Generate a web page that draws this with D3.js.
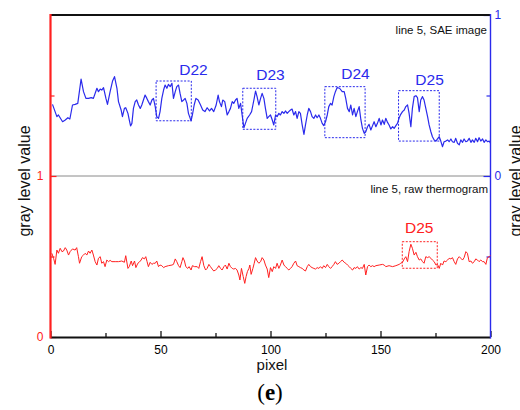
<!DOCTYPE html>
<html>
<head>
<meta charset="utf-8">
<script src="https://cdn.jsdelivr.net/npm/d3@7"></script>
<style>
  html, body { margin: 0; padding: 0; background: #fff; }
  svg { display: block; }
</style>
</head>
<body>
<svg id="chart" width="520" height="410"></svg>
<script>
// ---- data ----
// SAE image profile (right axis, 0..1 upper half)
const saePx = [0.9,2.9,3.6,5.5,6.7,7.9,8.8,10.0,11.2,12.4,13.9,15.0,16.1,17.3,18.5,19.5,21.1,21.8,22.6,23.3,24.1,25.2,25.9,27.1,28.2,29.1,30.2,30.9,32.1,32.7,33.6,34.2,35.2,35.8,36.4,37.0,37.7,38.5,39.2,40.0,40.8,41.5,43.0,43.8,44.5,45.3,46.1,46.8,47.6,48.3,49.1,49.8,50.6,51.4,52.1,52.9,53.6,54.4,55.2,55.9,56.7,57.4,58.2,58.9,59.7,60.5,61.2,62.0,62.7,63.5,63.9,64.5,65.3,
  66.1,67.1,68.2,69.2,70.2,71.2,72.3,73.2,74.2,75.3,76.2,76.8,77.7,78.3,79.2,80.3,81.1,81.8,82.6,83.3,84.1,84.8,85.6,86.4,87.1,87.9,88.6,89.4,90.5,91.4,92.0,92.6,93.2,93.9,94.7,95.5,96.2,97.0,97.7,98.5,99.2,100.0,100.8,101.5,102.3,103.0,103.8,104.5,105.3,106.1,106.8,107.6,108.3,109.1,109.8,110.6,111.4,112.1,112.9,113.6,114.4,115.2,115.9,116.7,117.4,118.2,118.9,119.7,120.5,121.2,122.0,122.7,123.5,124.2,125.0,125.8,126.5,127.3,128.0,128.8,129.5,130.3,131.4,132.6,
  133.5,134.2,135.0,135.8,136.5,137.3,138.0,138.8,139.5,140.3,141.1,141.8,142.6,143.3,144.1,144.8,145.6,146.4,147.1,147.9,148.6,149.4,150.2,150.9,151.7,152.4,153.2,153.9,154.7,155.5,156.2,157.0,157.7,158.5,159.2,160.0,160.8,161.5,162.3,163.0,163.8,164.5,165.3,166.1,166.8,167.6,168.3,169.1,169.8,170.6,171.4,172.1,172.9,173.6,174.4,175.2,175.9,176.7,177.4,178.2,178.9,179.7,180.5,181.2,182.0,182.7,183.5,184.2,185.0,185.8,186.5,187.3,188.0,188.8,189.5,190.3,191.1,191.8,192.6,193.3,194.1,194.8,195.6,196.4,197.1,197.9,198.6,199.4,200.0];
const saeVal = [0.445,0.369,0.379,0.337,0.348,0.362,0.354,0.441,0.445,0.451,0.602,0.524,0.482,0.482,0.487,0.482,0.545,0.524,0.540,0.534,0.549,0.482,0.445,0.524,0.590,0.617,0.545,0.462,0.410,0.369,0.420,0.424,0.389,0.348,0.311,0.327,0.420,0.462,0.472,0.441,0.420,0.441,0.503,0.482,0.462,0.441,0.472,0.482,0.431,0.369,0.358,0.400,0.482,0.534,0.565,0.545,0.569,0.555,0.576,0.482,0.524,0.555,0.565,0.513,0.462,0.472,0.482,0.451,0.389,0.358,0.342,0.379,0.441,
  0.482,0.472,0.441,0.410,0.400,0.424,0.404,0.420,0.400,0.441,0.503,0.462,0.431,0.472,0.462,0.379,0.400,0.420,0.462,0.451,0.472,0.482,0.420,0.451,0.379,0.300,0.327,0.358,0.379,0.400,0.441,0.482,0.528,0.493,0.441,0.482,0.513,0.482,0.420,0.358,0.369,0.379,0.348,0.317,0.379,0.369,0.389,0.379,0.400,0.389,0.404,0.389,0.400,0.410,0.416,0.379,0.400,0.358,0.400,0.389,0.317,0.259,0.317,0.379,0.420,0.400,0.369,0.358,0.379,0.362,0.379,0.358,0.327,0.313,0.337,0.379,0.431,0.451,0.441,0.493,0.524,0.549,0.545,0.524,
  0.524,0.482,0.420,0.400,0.441,0.379,0.420,0.369,0.400,0.431,0.348,0.296,0.265,0.275,0.306,0.321,0.286,0.313,0.337,0.306,0.327,0.358,0.317,0.348,0.321,0.358,0.333,0.317,0.292,0.306,0.296,0.313,0.327,0.362,0.383,0.400,0.410,0.431,0.441,0.389,0.306,0.420,0.493,0.499,0.487,0.400,0.472,0.493,0.472,0.420,0.369,0.317,0.275,0.244,0.224,0.217,0.230,0.244,0.217,0.182,0.213,0.217,0.224,0.213,0.230,0.213,0.209,0.234,0.203,0.193,0.224,0.209,0.230,0.213,0.217,0.234,0.209,0.224,0.209,0.234,0.213,0.238,0.217,0.230,0.209,0.224,0.213,0.217,0.203];

// raw thermogram profile (left axis, 0..1 lower half)
const rawPx = [0.6,1.4,2.1,2.9,3.6,4.4,5.2,5.9,6.7,7.4,8.2,8.9,10.0,11.2,11.9,12.7,13.2,14.2,15.0,15.8,16.5,17.3,18.0,18.8,19.5,20.3,21.1,21.8,22.6,23.3,24.1,24.8,25.6,26.4,27.1,27.9,29.4,30.9,32.4,33.6,34.2,35.2,35.8,36.7,37.3,38.2,38.8,39.7,40.3,41.2,41.8,42.7,43.3,43.9,44.5,45.3,46.1,46.8,47.6,48.3,49.1,49.8,50.6,51.4,52.1,53.6,55.2,55.9,56.7,57.4,58.2,58.9,59.7,60.2,60.9,61.5,62.4,63.0,63.9,64.5,65.5,
  66.7,67.4,68.2,68.9,69.7,70.5,71.2,72.0,72.7,73.5,74.2,75.0,75.8,76.5,77.3,78.0,78.8,79.5,80.3,81.1,81.8,82.6,83.3,84.1,84.8,85.6,86.1,86.8,87.6,88.3,88.9,89.5,90.2,90.6,91.2,92.0,92.6,93.2,93.9,94.7,95.5,96.2,97.0,97.7,98.5,99.2,100.0,100.8,101.5,102.3,103.0,103.8,104.5,105.3,106.1,106.8,107.6,108.3,109.1,109.8,110.6,111.4,112.1,112.9,113.6,114.4,115.2,115.9,116.7,117.4,118.2,118.9,119.7,120.5,121.2,122.0,122.7,123.5,124.2,125.0,125.8,126.5,127.3,128.0,128.8,129.5,130.3,131.1,131.8,132.6,
  133.5,134.2,135.0,135.8,136.5,137.3,138.0,138.8,139.5,140.3,141.1,141.8,142.6,143.3,144.1,144.8,145.6,146.4,147.1,147.9,149.4,150.9,151.7,152.4,153.9,155.5,157.0,158.5,159.2,160.0,160.8,161.5,162.3,163.0,163.8,164.5,165.3,166.1,166.8,167.6,168.3,169.1,169.8,170.6,171.4,172.1,172.9,173.6,174.4,175.2,175.9,176.7,177.4,178.2,178.9,179.7,180.5,181.2,182.0,182.7,183.5,184.2,185.0,185.8,186.5,187.3,188.0,188.8,189.5,190.3,191.1,191.8,192.6,193.3,194.1,194.8,195.6,196.4,197.1,197.9,198.6,199.4,200.0];
const rawVal = [0.520,0.489,0.451,0.540,0.520,0.551,0.530,0.534,0.555,0.540,0.509,0.530,0.547,0.540,0.555,0.499,0.458,0.499,0.509,0.520,0.509,0.534,0.520,0.540,0.509,0.468,0.447,0.489,0.499,0.458,0.468,0.437,0.478,0.468,0.476,0.468,0.468,0.468,0.472,0.464,0.505,0.426,0.437,0.472,0.443,0.472,0.431,0.458,0.464,0.478,0.493,0.485,0.499,0.468,0.437,0.464,0.451,0.458,0.458,0.472,0.437,0.447,0.443,0.431,0.437,0.443,0.447,0.451,0.485,0.468,0.443,0.431,0.468,0.493,0.472,0.437,0.426,0.437,0.416,0.443,0.437,
  0.437,0.426,0.468,0.499,0.443,0.416,0.426,0.451,0.437,0.422,0.410,0.416,0.426,0.443,0.426,0.416,0.437,0.447,0.422,0.458,0.437,0.426,0.422,0.426,0.416,0.385,0.354,0.426,0.375,0.333,0.375,0.406,0.426,0.447,0.389,0.426,0.458,0.493,0.472,0.458,0.468,0.493,0.478,0.447,0.422,0.369,0.431,0.406,0.437,0.426,0.458,0.426,0.447,0.478,0.447,0.437,0.426,0.416,0.426,0.437,0.458,0.472,0.443,0.437,0.431,0.426,0.416,0.410,0.437,0.451,0.437,0.431,0.426,0.422,0.431,0.426,0.437,0.426,0.443,0.431,0.451,0.437,0.426,0.437,0.451,0.468,0.451,0.458,0.468,0.478,
  0.464,0.458,0.447,0.437,0.426,0.416,0.431,0.426,0.437,0.422,0.431,0.426,0.451,0.385,0.437,0.447,0.437,0.443,0.437,0.443,0.447,0.451,0.447,0.437,0.443,0.437,0.443,0.451,0.458,0.464,0.485,0.499,0.468,0.530,0.576,0.551,0.509,0.526,0.499,0.478,0.485,0.468,0.458,0.499,0.493,0.499,0.489,0.478,0.468,0.447,0.451,0.426,0.458,0.447,0.472,0.468,0.478,0.489,0.485,0.493,0.468,0.451,0.485,0.499,0.489,0.478,0.493,0.530,0.520,0.468,0.472,0.458,0.468,0.485,0.478,0.468,0.478,0.468,0.468,0.451,0.493,0.499,0.505];

// defect annotation boxes (SAE, right axis units)
const saeBoxLabels = ["D22", "D23", "D24", "D25"];
const saeBoxX0 = [48.0, 87.4, 124.7, 158.2];
const saeBoxX1 = [64.0, 102.4, 143.0, 176.7];
const saeBoxTop = [0.590, 0.545, 0.555, 0.530];
const saeBoxBottom = [0.343, 0.290, 0.238, 0.217];
const saeLabelX = [65.0, 100.0, 138.6, 172.3];
const saeLabelY = [0.627, 0.596, 0.602, 0.565];

// defect box on raw thermogram (left axis units)
const rawBoxLabels = ["D25"];
const rawBoxX0 = [159.9];
const rawBoxX1 = [175.8];
const rawBoxTop = [0.592];
const rawBoxBottom = [0.427];
const rawLabelX = [167.6];
const rawLabelY = [0.646];

const xTicks = [0, 50, 100, 150, 200];
const xMinor = [25, 75, 125, 175];
const leftTickLabels = [0, 1];
const rightTickLabels = [0, 1];

// ---- drawing ----
const BLUE = "#2a2aec", RED = "#ff2020";
const FONT = "'Liberation Sans', Arial, Helvetica, sans-serif";
const L = 50.5, R = 490.5, T = 15, B = 337;
const svg = d3.select("#chart");

const x = d3.scaleLinear().domain([0, 200]).range([L, R]);
const yL = d3.scaleLinear().domain([0, 2]).range([B, T]);
const yR = d3.scaleLinear().domain([-1, 1]).range([B, T]);

// separator at left=1 / right=0
svg.append("line").attr("x1", L).attr("x2", R).attr("y1", yL(1)).attr("y2", yL(1))
  .attr("stroke", "#8a8a8a").attr("stroke-width", 1);

// axes
function styleAxis(g, color, size) {
  g.select(".domain").remove();
  g.selectAll(".tick line").attr("stroke", color).attr("stroke-width", 1.2);
  g.selectAll(".tick text").attr("fill", color).attr("font-family", FONT).attr("font-size", size);
}
svg.append("g").attr("transform", `translate(0,${B})`)
  .call(d3.axisBottom(x).tickValues(xTicks).tickSize(-6).tickPadding(8.5).tickFormat(d3.format("d")))
  .call(g => styleAxis(g, "#000", 12));
svg.append("g").attr("transform", `translate(0,${B})`)
  .call(d3.axisBottom(x).tickValues(xMinor).tickSize(-4).tickFormat(""))
  .call(g => styleAxis(g, "#000", 12));

svg.append("g").attr("transform", `translate(${L},0)`)
  .call(d3.axisLeft(yL).tickValues(leftTickLabels).tickSize(-6).tickPadding(7).tickFormat(d3.format("d")))
  .call(g => styleAxis(g, RED, 12));
svg.append("g").attr("transform", `translate(${L},0)`)
  .call(d3.axisLeft(yL).tickValues([0.5, 1.5]).tickSize(-4).tickFormat(""))
  .call(g => styleAxis(g, RED, 12));

svg.append("g").attr("transform", `translate(${R},0)`)
  .call(d3.axisRight(yR).tickValues(rightTickLabels).tickSize(-7).tickPadding(4).tickFormat(d3.format("d")))
  .call(g => styleAxis(g, BLUE, 12));
svg.append("g").attr("transform", `translate(${R},0)`)
  .call(d3.axisRight(yR).tickValues([-0.5, 0.5]).tickSize(-4).tickFormat(""))
  .call(g => styleAxis(g, BLUE, 12));

// frame lines
svg.append("line").attr("x1", L).attr("x2", R).attr("y1", T).attr("y2", T)
  .attr("stroke", "#111").attr("stroke-width", 2);
svg.append("line").attr("x1", L).attr("x2", R).attr("y1", B + 0.5).attr("y2", B + 0.5)
  .attr("stroke", "#111").attr("stroke-width", 2);
svg.append("line").attr("x1", L).attr("x2", L).attr("y1", T - 1).attr("y2", B + 1.5)
  .attr("stroke", RED).attr("stroke-width", 2.2);
svg.append("line").attr("x1", R).attr("x2", R).attr("y1", T - 1).attr("y2", B + 1.5)
  .attr("stroke", BLUE).attr("stroke-width", 1.4);

// lines
const saeData = saePx.map((p, i) => [p, saeVal[i]]);
const rawData = rawPx.map((p, i) => [p, rawVal[i]]);
svg.append("path").datum(saeData)
  .attr("d", d3.line().x(d => x(d[0])).y(d => yR(d[1])))
  .attr("fill", "none").attr("stroke", BLUE).attr("stroke-width", 1.2).attr("stroke-linejoin", "round");
svg.append("path").datum(rawData)
  .attr("d", d3.line().x(d => x(d[0])).y(d => yL(d[1])))
  .attr("fill", "none").attr("stroke", RED).attr("stroke-width", 1).attr("stroke-linejoin", "round");

// boxes
saeBoxLabels.forEach((lab, i) => {
  svg.append("rect")
    .attr("x", x(saeBoxX0[i])).attr("y", yR(saeBoxTop[i]))
    .attr("width", x(saeBoxX1[i]) - x(saeBoxX0[i]))
    .attr("height", yR(saeBoxBottom[i]) - yR(saeBoxTop[i]))
    .attr("fill", "none").attr("stroke", BLUE).attr("stroke-width", 1).attr("stroke-dasharray", "2,1.5");
  svg.append("text").attr("x", x(saeLabelX[i])).attr("y", yR(saeLabelY[i]))
    .attr("text-anchor", "middle").attr("fill", BLUE).attr("font-family", FONT).attr("font-size", 15.5)
    .text(lab);
});
rawBoxLabels.forEach((lab, i) => {
  svg.append("rect")
    .attr("x", x(rawBoxX0[i])).attr("y", yL(rawBoxTop[i]))
    .attr("width", x(rawBoxX1[i]) - x(rawBoxX0[i]))
    .attr("height", yL(rawBoxBottom[i]) - yL(rawBoxTop[i]))
    .attr("fill", "none").attr("stroke", RED).attr("stroke-width", 1).attr("stroke-dasharray", "2,1.5");
  svg.append("text").attr("x", x(rawLabelX[i])).attr("y", yL(rawLabelY[i]))
    .attr("text-anchor", "middle").attr("fill", RED).attr("font-family", FONT).attr("font-size", 15.5)
    .text(lab);
});

// inline labels
svg.append("text").attr("x", 487).attr("y", 34).attr("text-anchor", "end")
  .attr("font-family", FONT).attr("font-size", 11.5).attr("fill", "#111").text("line 5, SAE image");
svg.append("text").attr("x", 488).attr("y", 193).attr("text-anchor", "end")
  .attr("font-family", FONT).attr("font-size", 11.5).attr("fill", "#111").text("line 5, raw thermogram");

// axis titles
svg.append("text").attr("transform", `translate(30,181) rotate(-90)`).attr("text-anchor", "middle")
  .attr("font-family", FONT).attr("font-size", 16).attr("fill", "#111").text("gray level value");
svg.append("text").attr("transform", `translate(521,181) rotate(-90)`).attr("text-anchor", "middle")
  .attr("font-family", FONT).attr("font-size", 16).attr("fill", "#111").text("gray level value");
svg.append("text").attr("x", 272).attr("y", 370).attr("text-anchor", "middle")
  .attr("font-family", FONT).attr("font-size", 15).attr("fill", "#111").text("pixel");

// panel label
const cap = svg.append("text").attr("x", 270).attr("y", 400).attr("text-anchor", "middle")
  .attr("font-family", "'Liberation Serif', 'Times New Roman', serif").attr("font-size", 23).attr("fill", "#000");
cap.append("tspan").text("(");
cap.append("tspan").attr("font-weight", "bold").text("e");
cap.append("tspan").text(")");
</script>
</body>
</html>
